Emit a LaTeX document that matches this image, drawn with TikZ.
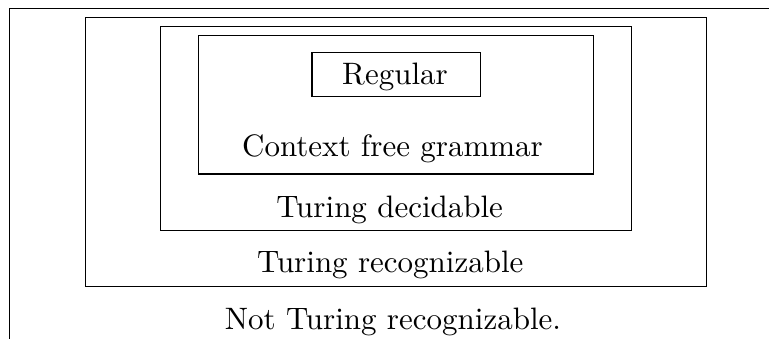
\documentclass[tikz,border=0pt]{standalone}
\usetikzlibrary{fit}
\begin{document}
\begin{tikzpicture}[x=0.3226pt,y=-0.3226pt,
  box/.style={draw, line width=0.4pt, inner sep=0pt, outer sep=0pt},
  lbl/.style={anchor=base, inner sep=0pt, font=\fontsize{10}{12}\selectfont}]
\useasboundingbox (0,0) rectangle (769,339);
\clip (0,0) rectangle (769,339);
\node[box, fit={(9.3,8.3) (790,360)}] (outer) {};
\node[box, fit={(85.3,17.5) (706.7,286.7)}] (recog) {};
\node[box, fit={(160.7,26.7) (631.3,230.7)}] (decid) {};
\node[box, fit={(198.3,35.3) (593.3,174)}] (cfg) {};
\node[box, fit={(312,52.3) (480.3,96.7)}] (reg) {};
\node[lbl] (tReg) at (395,85) {Regular};
\node[lbl] (tCFG) at (392.5,157) {Context free grammar};
\node[lbl] (tTD) at (389.7,218) {Turing decidable};
\node[lbl] (tTR) at (390.3,273) {Turing recognizable};
\node[lbl] (tNTR) at (393,329) {Not Turing recognizable.};
\end{tikzpicture}
\end{document}
